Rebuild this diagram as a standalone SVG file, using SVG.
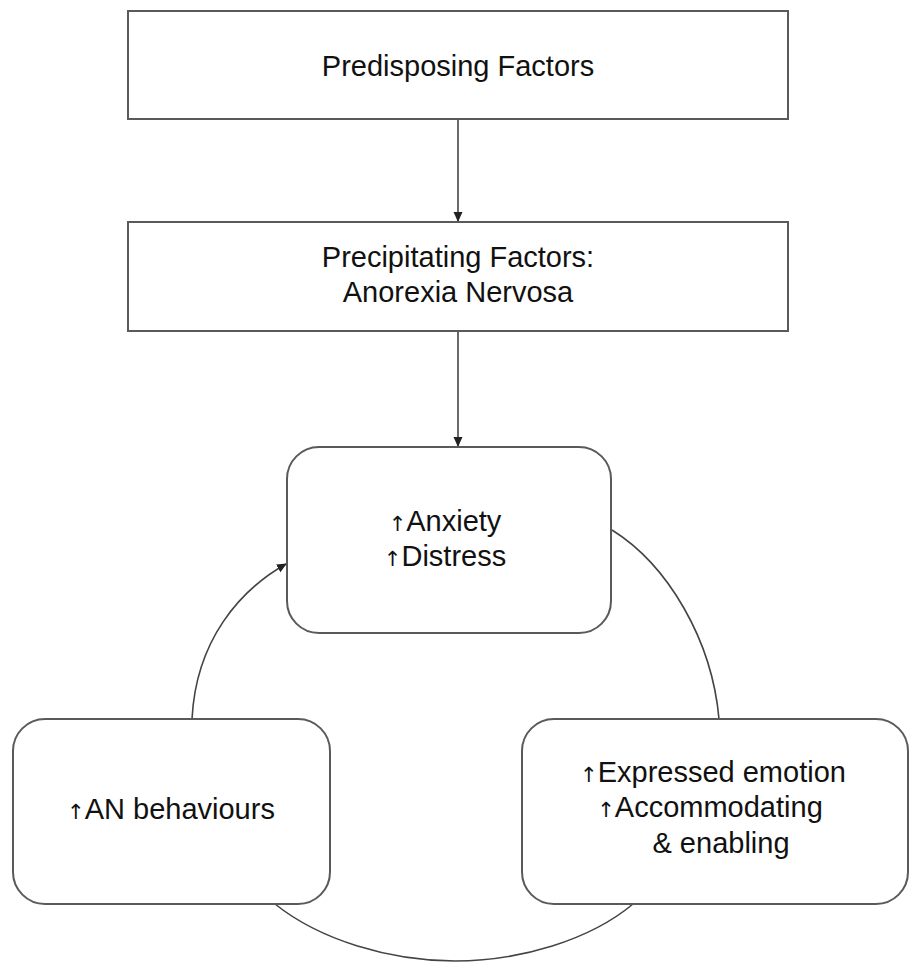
<svg xmlns="http://www.w3.org/2000/svg" width="910" height="962" viewBox="0 0 910 962">
<style>
.box{fill:#fff;stroke:#5a5a5a;stroke-width:2}
.t{font-family:"Liberation Sans",Arial,sans-serif;font-size:29px;fill:#111;text-anchor:middle}
.up{font-family:"DejaVu Sans",sans-serif;font-size:21px;fill:#111}
.c{fill:none;stroke:#444;stroke-width:1.6}
</style>
<defs>
<marker id="ah" markerWidth="10" markerHeight="10" refX="9" refY="5" orient="auto" markerUnits="userSpaceOnUse">
<path d="M0,0.5 L10,5 L0,9.5 Z" fill="#222"/>
</marker>
</defs>
<rect width="910" height="962" fill="#fff"/>
<g id="connectors">
<line class="c" x1="458" y1="119" x2="458" y2="221" marker-end="url(#ah)"/>
<line class="c" x1="458" y1="331" x2="458" y2="446" marker-end="url(#ah)"/>
<path class="c" d="M192,719 C196,640 240,590 286,564" marker-end="url(#ah)"/>
<path class="c" d="M612,530 C668,565 712,640 719,719"/>
<path class="c" d="M633,904 C590,940 520,961 455,961 C390,961 320,940 275,904"/>
</g>
<g id="predisposing">
<rect class="box" x="128" y="11" width="660" height="108"/>
<text class="t" x="458" y="76">Predisposing Factors</text>
</g>
<g id="precipitating">
<rect class="box" x="128" y="222" width="660" height="109"/>
<text class="t" x="458" y="267">Precipitating Factors:</text>
<text class="t" x="458" y="302">Anorexia Nervosa</text>
</g>
<g id="anxiety">
<rect class="box" x="287" y="447" width="324" height="186" rx="32"/>
<text class="t" x="445" y="531"><tspan class="up">↑</tspan>Anxiety</text>
<text class="t" x="445" y="566"><tspan class="up">↑</tspan>Distress</text>
</g>
<g id="an-behaviours">
<rect class="box" x="13" y="719" width="317" height="185" rx="32"/>
<text class="t" x="171" y="819"><tspan class="up">↑</tspan>AN behaviours</text>
</g>
<g id="expressed-emotion">
<rect class="box" x="522" y="719" width="386" height="185" rx="32"/>
<text class="t" x="713" y="782"><tspan class="up">↑</tspan>Expressed emotion</text>
<text class="t" x="710" y="817"><tspan class="up">↑</tspan>Accommodating</text>
<text class="t" x="721" y="853">&amp; enabling</text>
</g>
</svg>
